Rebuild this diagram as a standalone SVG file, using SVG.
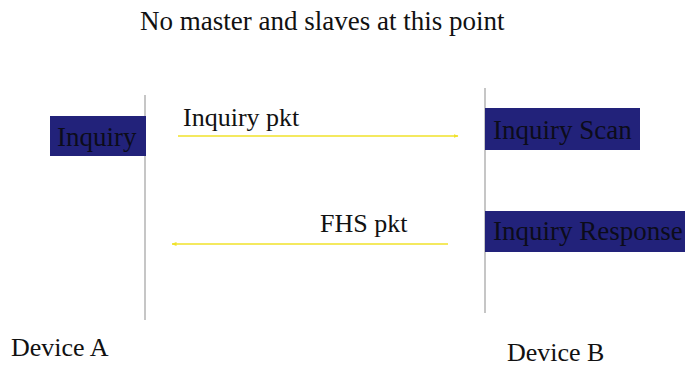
<svg xmlns="http://www.w3.org/2000/svg" width="685" height="366" viewBox="0 0 685 366">
<style>
text{fill:#111}
.lbl{font-size:26px}
.box{fill:#22227a}
.boxt{font-size:27px;fill:#0c0c1a}
.life{stroke:#a0a0a0;stroke-width:1.2}
.msg{stroke:#f0e22a;stroke-width:1.6;fill:none}
</style>
<defs>
<marker id="ah" viewBox="0 0 10 10" refX="9" refY="5" markerWidth="5" markerHeight="5" orient="auto-start-reverse" markerUnits="userSpaceOnUse">
<path d="M0,1 L10,5 L0,9 z" fill="#f0e22a"/>
</marker>
</defs>
<rect width="685" height="366" fill="#fff"/>
<g font-family="'Liberation Serif', 'DejaVu Serif', serif">
<text x="140" y="30" font-size="27">No master and slaves at this point</text>
<g id="deviceA">
<line class="life" x1="145" y1="95" x2="145" y2="320"/>
<text class="lbl" x="11" y="356">Device A</text>
</g>
<g id="deviceB">
<line class="life" x1="485" y1="88" x2="485" y2="313"/>
<text class="lbl" x="507" y="361">Device B</text>
</g>
<g id="inquiry">
<rect class="box" x="50" y="116" width="96" height="40"/>
<text class="boxt" x="57" y="146">Inquiry</text>
</g>
<g id="inquiryScan">
<rect class="box" x="485" y="108" width="155" height="42"/>
<text class="boxt" x="493" y="139">Inquiry Scan</text>
</g>
<g id="inquiryResponse">
<rect class="box" x="485" y="211" width="200" height="41"/>
<text class="boxt" x="493" y="240">Inquiry Response</text>
</g>
<g id="connectors">
<line class="msg" x1="178" y1="136" x2="458" y2="136" marker-end="url(#ah)"/>
<text class="lbl" x="183" y="126">Inquiry pkt</text>
<line class="msg" x1="448" y1="244" x2="172" y2="244" marker-end="url(#ah)"/>
<text class="lbl" x="320" y="232">FHS pkt</text>
</g>
</g>
</svg>
